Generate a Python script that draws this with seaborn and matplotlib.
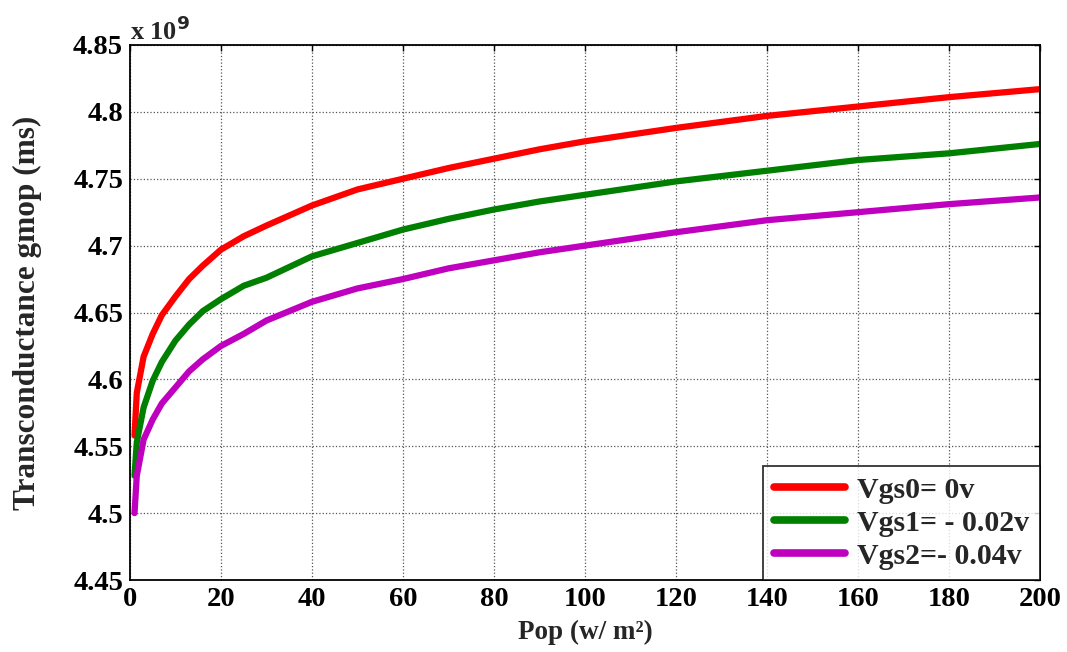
import matplotlib
matplotlib.use("Agg")
import matplotlib.pyplot as plt
import seaborn as sns
import pandas as pd

# Data (values in units of 1e9)
pop = [1, 1.5, 3, 5, 7, 10, 13, 16, 20, 25, 30, 40, 50, 60, 70, 80, 90, 100, 120, 140, 160, 180, 200]
vgs0 = [4.558, 4.590, 4.617, 4.634, 4.648, 4.662, 4.675, 4.685, 4.697, 4.707, 4.715, 4.730, 4.742, 4.750,
        4.758, 4.765, 4.772, 4.778, 4.788, 4.797, 4.804, 4.811, 4.817]
vgs1 = [4.528, 4.553, 4.579, 4.599, 4.613, 4.629, 4.641, 4.651, 4.660, 4.670, 4.676, 4.692, 4.702, 4.712,
        4.720, 4.727, 4.733, 4.738, 4.748, 4.756, 4.764, 4.769, 4.776]
vgs2 = [4.500, 4.528, 4.555, 4.570, 4.582, 4.594, 4.606, 4.615, 4.625, 4.634, 4.644, 4.658, 4.668, 4.675,
        4.683, 4.689, 4.695, 4.700, 4.710, 4.719, 4.725, 4.731, 4.736]
series_names = ["Vgs0= 0v", "Vgs1= - 0.02v", "Vgs2=- 0.04v"]
colors = ["#ff0000", "#007f00", "#bf00bf"]
x_ticks = [0, 20, 40, 60, 80, 100, 120, 140, 160, 180, 200]
y_ticks = [4.45, 4.5, 4.55, 4.6, 4.65, 4.7, 4.75, 4.8, 4.85]
y_tick_labels = ["4.45", "4.5", "4.55", "4.6", "4.65", "4.7", "4.75", "4.8", "4.85"]

df = pd.concat([
    pd.DataFrame({"Pop": pop, "g": vals, "series": name})
    for name, vals in zip(series_names, [vgs0, vgs1, vgs2])
])

sns.set_style("white")
plt.rcParams["font.family"] = ["Liberation Serif", "DejaVu Serif"]
plt.rcParams["font.weight"] = "bold"
plt.rcParams["mathtext.default"] = "bf"

fig = plt.figure(figsize=(10.67, 6.52), dpi=100)
ax = fig.add_axes([0.1218, 0.1104, 0.8529, 0.8206])

sns.lineplot(data=df, x="Pop", y="g", hue="series", palette=colors, linewidth=4.5,
             ax=ax, legend=True, sort=False)

ax.set_xlim(0, 200)
ax.set_ylim(4.45, 4.85)
ax.set_xticks(x_ticks)
ax.set_yticks(y_ticks)
ax.set_yticklabels(y_tick_labels)
ax.tick_params(direction="in", length=4, width=1, top=True, right=True,
               labelsize=20.5, pad=5, colors="black")
for lab in ax.get_xticklabels() + ax.get_yticklabels():
    lab.set_fontweight("bold")
ax.grid(True, linestyle=":", color="#555555", linewidth=0.9)
for sp in ax.spines.values():
    sp.set_color("black")
    sp.set_linewidth(1.3)

ax.set_xlabel("Pop (w/ m²)", fontsize=19.5, fontweight="bold", labelpad=6)
ax.set_ylabel("Transconductance gmop (ms)", fontsize=22.5, fontweight="bold", labelpad=22)
ax.text(0.0, 1.0, r"x 10$^{9}$", transform=ax.transAxes, fontsize=19, fontweight="bold",
        ha="left", va="bottom")

leg = ax.legend(loc="lower right", fontsize=21.5, frameon=True, fancybox=False,
                handlelength=2.4, borderaxespad=0.0, borderpad=0.35, labelspacing=0.2,
                handletextpad=0.4)
leg.get_frame().set_edgecolor("black")
leg.get_frame().set_linewidth(1.3)
for t in leg.get_texts():
    t.set_fontweight("bold")
for h in leg.get_lines():
    h.set_linewidth(5.5)

fig.savefig("out.png", dpi=100)
